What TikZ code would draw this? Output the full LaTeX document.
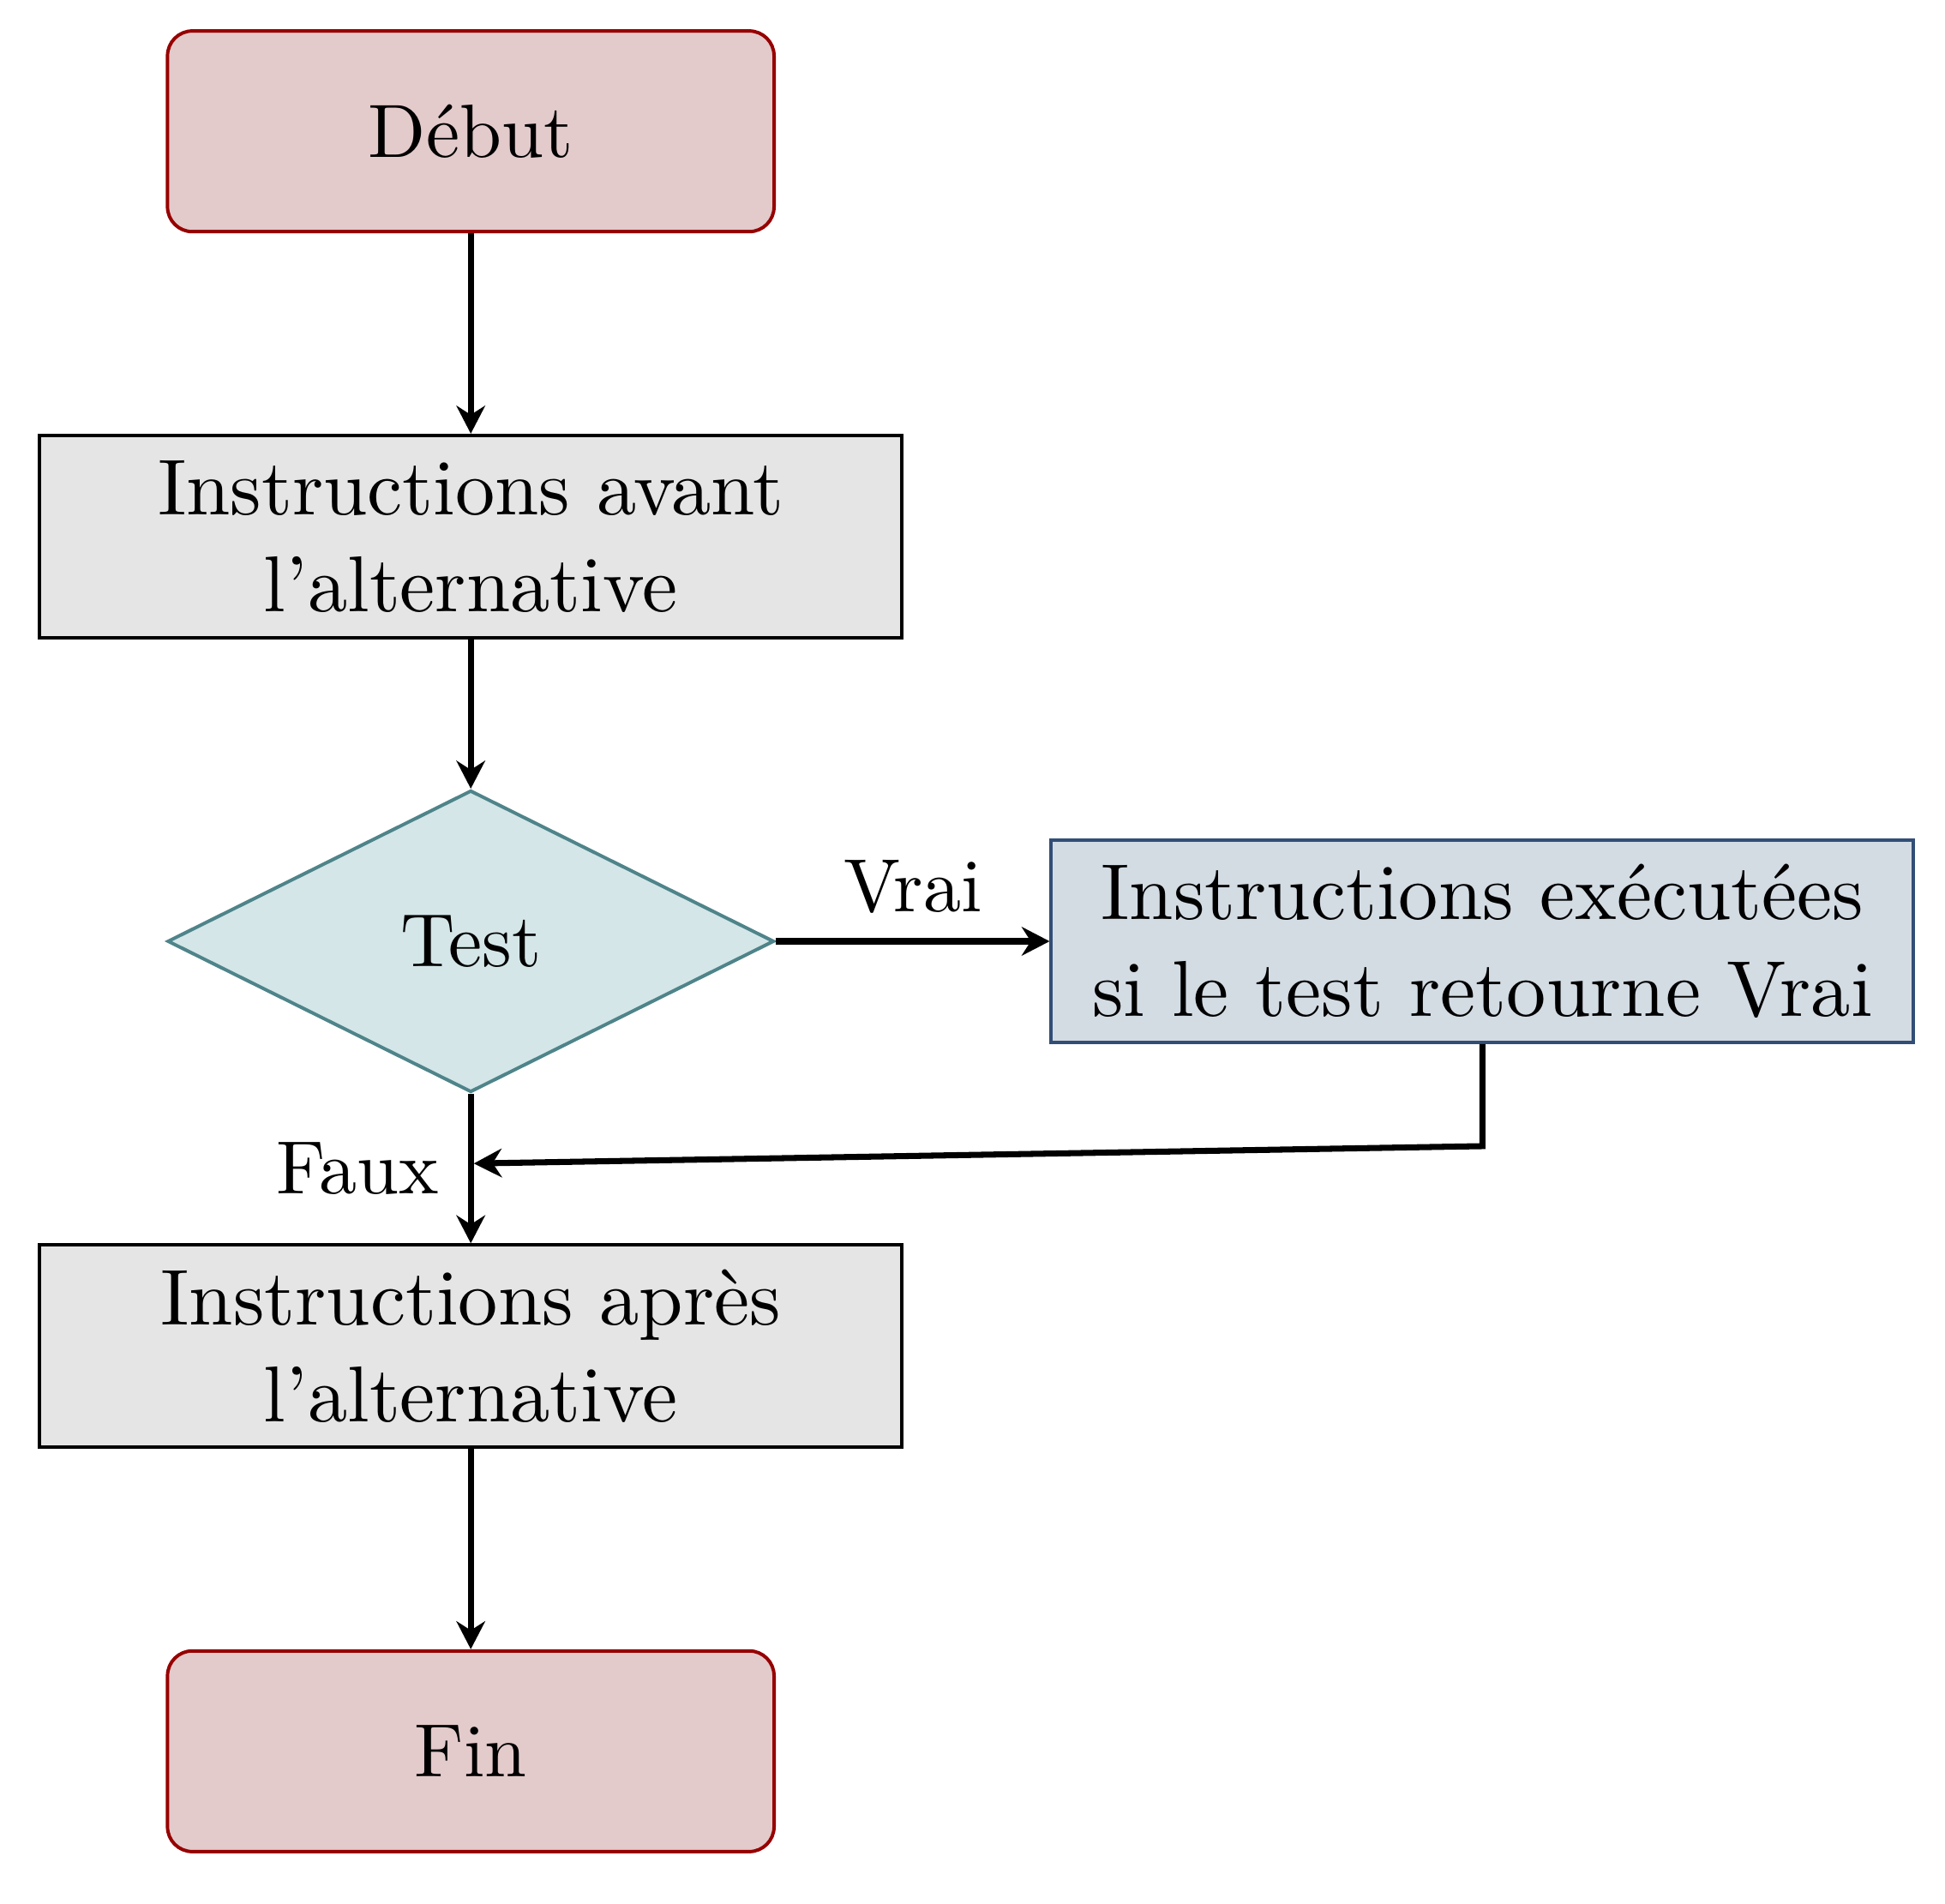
\documentclass[tikz,border=0pt]{standalone}
\usetikzlibrary{arrows.meta,shapes.geometric}
\definecolor{termfill}{RGB}{227,202,203}
\definecolor{termdraw}{RGB}{150,0,0}
\definecolor{procfill}{RGB}{229,229,229}
\definecolor{decfill}{RGB}{212,230,232}
\definecolor{decdraw}{RGB}{78,132,138}
\definecolor{truefill}{RGB}{211,219,227}
\definecolor{truedraw}{RGB}{50,78,118}
\begin{document}
\begin{tikzpicture}[x=1pt,y=1pt,
 term/.style={draw=termdraw, fill=termfill, rounded corners=3.3pt, minimum width=80.4pt, minimum height=26.6pt, inner sep=0pt, line width=0.45pt},
 proc/.style={draw=black, fill=procfill, minimum width=114.3pt, minimum height=26.8pt, align=center, inner sep=0pt, line width=0.45pt, font=\fontsize{10.5}{12.8}\selectfont},
 truebox/.style={proc, draw=truedraw, fill=truefill},
 dec/.style={diamond, draw=decdraw, fill=decfill, minimum width=80.4pt, minimum height=40pt, inner sep=0pt, aspect=2, line width=0.45pt},
 flow/.style={-{Stealth[length=3.7pt,width=3.8pt,inset=1.2pt]}, line width=0.8pt},
 lbl/.style={inner sep=0pt, anchor=base}
]
\useasboundingbox (0,0) rectangle (257.8,-252.3);
\node[term] (debut) at (62.4,-17.4) {Début};
\node[proc] (avant) at (62.4,-71.1) {Instructions avant\\l'alternative};
\node[dec] (test) at (62.4,-124.75) {Test};
\node[truebox] (exec) at (196.5,-124.75) {Instructions exécutées\\si le test retourne Vrai};
\node[proc] (apres) at (62.4,-178.4) {Instructions après\\l'alternative};
\node[term] (fin) at (62.4,-232.1) {Fin};
\node[lbl] (vrai) at (121.0,-120.8) {Vrai};
\node[lbl] (faux) at (47.4,-158.2) {Faux};
\coordinate (bend) at (196.5,-151.9);
\coordinate (join) at (62.8,-154.2);
\draw[flow] (debut) -- (avant);
\draw[flow] (avant) -- (test);
\draw[flow] (test.east) -- (exec.west);
\draw[flow] (test.south) -- (apres.north);
\draw[flow] (exec.south) -- (bend) -- (join);
\draw[flow] (apres) -- (fin);
\end{tikzpicture}
\end{document}
